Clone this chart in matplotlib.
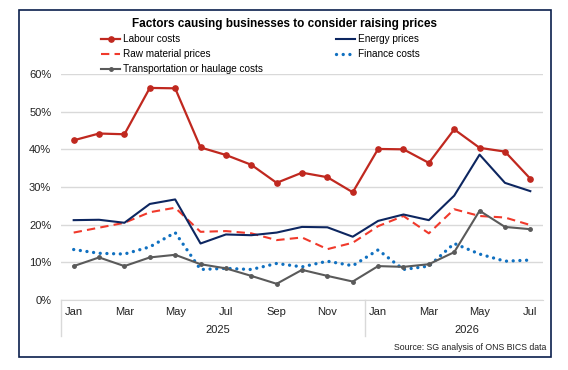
import matplotlib
matplotlib.use("Agg")
import matplotlib.pyplot as plt
from matplotlib.patches import Rectangle
import matplotlib.transforms as mtransforms

plt.rcParams['font.family'] = ['Liberation Sans', 'DejaVu Sans']

# Monthly survey waves, Jan 2025 - Jul 2026
months = ['Jan', 'Feb', 'Mar', 'Apr', 'May', 'Jun', 'Jul', 'Aug', 'Sep', 'Oct', 'Nov', 'Dec',
          'Jan', 'Feb', 'Mar', 'Apr', 'May', 'Jun', 'Jul']
years = ['2025', '2026']

labour = [42.4, 44.2, 44.0, 56.3, 56.2, 40.5, 38.5, 35.9, 31.1, 33.8, 32.6, 28.6,
          40.1, 40.0, 36.4, 45.3, 40.4, 39.4, 32.2]
energy = [21.2, 21.3, 20.5, 25.5, 26.7, 15.0, 17.4, 17.2, 17.9, 19.4, 19.3, 16.8,
          21.0, 22.7, 21.2, 27.7, 38.6, 31.1, 28.9]
raw_material = [17.9, 19.2, 20.5, 23.3, 24.5, 18.1, 18.3, 17.7, 15.9, 16.6, 13.5, 15.2,
                19.6, 22.3, 17.7, 24.1, 22.3, 21.9, 19.9]
finance = [13.4, 12.4, 12.2, 14.1, 17.9, 8.1, 8.4, 8.1, 9.7, 8.8, 10.3, 9.1,
           13.3, 8.1, 9.0, 15.0, 12.2, 10.3, 10.6]
transport = [9.0, 11.3, 9.0, 11.3, 12.0, 9.5, 8.4, 6.4, 4.3, 8.0, 6.4, 4.9,
             9.0, 8.8, 9.5, 12.7, 23.7, 19.4, 18.8]

x = list(range(len(months)))

fig = plt.figure(figsize=(5.68, 3.70), dpi=100)
ax = fig.add_axes([61 / 568, 1 - 300 / 370, 482 / 568, 226 / 370])

l1, = ax.plot(x, labour, color='#C0281F', lw=1.6, marker='o', markersize=3.8,
              label='Labour costs', zorder=5)
l2, = ax.plot(x, energy, color='#0D2660', lw=1.5, label='Energy prices', zorder=4)
l3, = ax.plot(x, raw_material, color='#F0392B', lw=1.5, linestyle=(0, (4, 2.5)),
              label='Raw material prices', zorder=3)
l4, = ax.plot(x, finance, color='#1070C0', lw=2.4, linestyle=(0, (0.01, 2.0)),
              dash_capstyle='round', label='Finance costs', zorder=2)
l5, = ax.plot(x, transport, color='#5A5A5A', lw=1.5, marker='o', markersize=2.5,
              label='Transportation or haulage costs', zorder=3)

ax.set_xlim(-0.5, len(months) - 0.5)
ax.set_ylim(0, 60)
ax.set_yticks(range(0, 61, 10))
ax.set_yticklabels([f'{v}%' for v in range(0, 61, 10)])
ax.set_xticks(x[::2])
ax.set_xticklabels(months[::2])
ax.tick_params(axis='both', length=0, labelsize=8, colors='#222222')
ax.tick_params(axis='y', pad=7)
ax.tick_params(axis='x', pad=5)
ax.yaxis.grid(True, color='#D9D9D9', lw=1.0)
ax.set_axisbelow(True)
for s in ['top', 'right', 'left']:
    ax.spines[s].set_visible(False)
ax.spines['bottom'].set_color('#D9D9D9')

# Year labels and group separators
trans = mtransforms.blended_transform_factory(ax.transData, ax.transAxes)
ax.text(5.68, -0.133, years[0], transform=trans, ha='center', va='center',
        fontsize=8, color='#222222')
ax.text(15.5, -0.133, years[1], transform=trans, ha='center', va='center',
        fontsize=8, color='#222222')
for xs in [-0.5, 11.5]:
    ax.plot([xs, xs], [0, -0.16], transform=trans, color='#D9D9D9', lw=1.0,
            clip_on=False)

fig.text(0.5, 1 - 24 / 370, 'Factors causing businesses to consider raising prices',
         ha='center', va='center', fontsize=8.5, fontweight='bold')

fig.legend(handles=[l1, l3, l5, l2, l4], loc='upper left', ncol=2,
           bbox_to_anchor=(101 / 568, 1 - 34 / 370), frameon=False,
           fontsize=7.2, borderpad=0, borderaxespad=0, handlelength=1.9,
           handletextpad=0.25, labelspacing=0.5, columnspacing=7.4)

fig.text(546 / 568, 1 - 348 / 370, 'Source: SG analysis of ONS BICS data',
         ha='right', va='center', fontsize=6.3, color='#222222')

fig.patches.append(Rectangle((19 / 568, 1 - 357 / 370), 532 / 568, 347 / 370,
                             transform=fig.transFigure, fill=False,
                             edgecolor='#0B1F4D', lw=1.2))

fig.savefig('out.png', dpi=100)
